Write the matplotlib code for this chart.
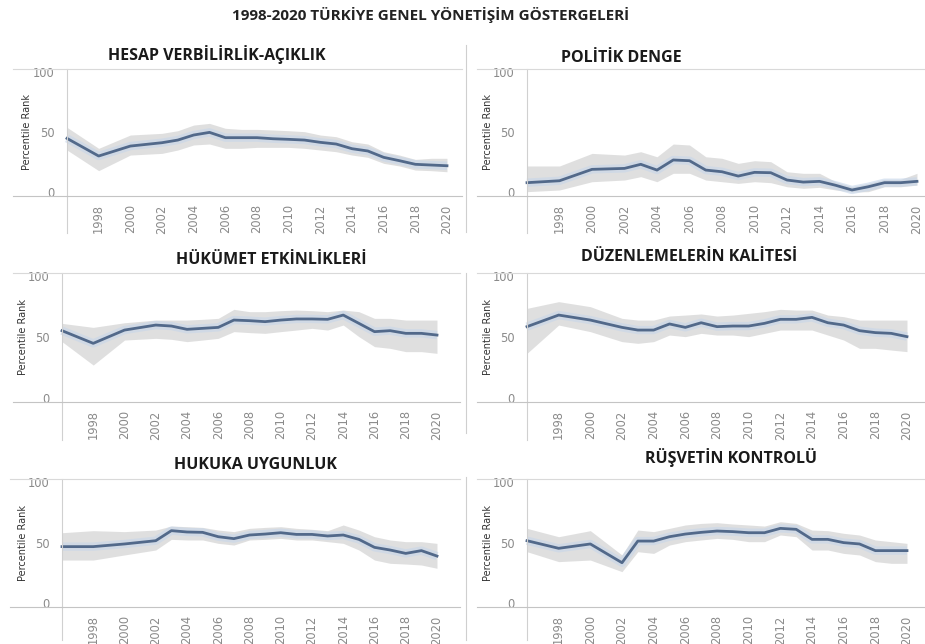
import matplotlib
matplotlib.use('Agg')
import matplotlib.pyplot as plt

years = [1996, 1998, 2000, 2002, 2003, 2004, 2005, 2006, 2007, 2008, 2009,
         2010, 2011, 2012, 2013, 2014, 2015, 2016, 2017, 2018, 2019, 2020]
tick_years = list(range(1998, 2021, 2))

# percentile rank + 90% band for each indicator
hesap_val = [44.7, 30.0, 38.3, 41.1, 43.3, 47.5, 49.7, 45.3, 45.3, 45.3, 44.4, 43.9, 43.3, 41.4, 40.0, 36.1, 34.2, 28.9, 26.1, 23.1, 22.5, 21.9]
hesap_up = [53.9, 36.4, 47.5, 48.9, 51.1, 55.8, 57.2, 53.1, 52.2, 52.2, 51.7, 51.1, 50.3, 47.5, 46.1, 41.9, 40.0, 33.6, 30.8, 27.2, 28.1, 28.1]
hesap_lo = [35.0, 17.8, 30.8, 32.2, 35.0, 39.2, 40.0, 36.4, 36.4, 37.2, 37.2, 37.2, 36.4, 35.0, 33.6, 30.8, 28.9, 23.9, 21.7, 18.3, 17.8, 16.9]

politik_val = [7.8, 9.4, 18.9, 19.7, 23.1, 18.3, 26.7, 26.1, 18.3, 16.9, 13.3, 16.4, 16.1, 10.0, 8.3, 8.9, 5.6, 1.7, 4.4, 7.8, 7.8, 8.9]
politik_up = [21.7, 21.7, 32.2, 30.8, 33.6, 29.4, 40.0, 39.2, 29.4, 28.1, 23.9, 26.1, 25.3, 16.9, 15.6, 15.6, 8.6, 4.4, 7.2, 10.6, 10.6, 15.6]
politik_lo = [0.3, 1.7, 8.6, 10.0, 12.8, 8.6, 15.6, 15.6, 10.0, 8.6, 7.2, 8.6, 7.8, 4.4, 3.1, 3.9, 1.7, 0.0, 0.3, 4.4, 4.4, 5.8]

hukumet_val = [55.2, 44.8, 55.7, 59.8, 59.0, 56.3, 57.1, 57.9, 63.9, 63.4, 62.6, 63.9, 64.8, 64.8, 64.5, 68.0, 61.2, 54.4, 55.2, 53.0, 53.0, 51.6]
hukumet_up = [61.2, 57.9, 61.7, 63.9, 63.9, 63.9, 64.5, 65.3, 72.7, 70.8, 70.8, 71.6, 72.1, 71.6, 70.8, 72.1, 70.8, 65.3, 65.3, 63.9, 63.9, 63.9]
hukumet_lo = [46.2, 27.0, 47.5, 48.9, 48.1, 46.2, 47.5, 48.9, 54.4, 53.6, 53.0, 54.4, 55.7, 57.1, 55.7, 59.8, 50.3, 42.1, 40.7, 38.0, 38.0, 36.6]

duzen_val = [58.5, 68.0, 63.9, 57.9, 55.7, 55.7, 60.7, 57.9, 61.7, 58.5, 59.0, 59.0, 61.2, 64.5, 64.5, 66.1, 61.7, 59.8, 55.2, 53.6, 53.0, 50.3]
duzen_up = [73.5, 79.0, 74.9, 65.3, 63.9, 63.9, 67.2, 68.0, 68.9, 67.2, 68.0, 69.4, 70.8, 72.7, 72.1, 72.1, 68.0, 66.7, 63.9, 63.9, 63.9, 63.9]
duzen_lo = [36.6, 59.8, 54.4, 46.2, 44.8, 46.2, 51.6, 50.3, 53.0, 51.6, 51.6, 50.3, 53.0, 55.7, 55.7, 55.7, 51.6, 47.5, 40.7, 40.7, 39.3, 38.0]

hukuk_val = [46.6, 46.6, 48.8, 51.5, 59.8, 58.7, 58.4, 54.8, 53.2, 56.2, 57.0, 58.1, 56.7, 56.7, 55.4, 56.2, 52.6, 46.0, 43.8, 41.0, 43.3, 38.8]
hukuk_up = [58.1, 59.8, 59.0, 60.3, 63.6, 63.1, 62.5, 60.3, 59.0, 61.7, 62.5, 63.1, 61.7, 60.9, 59.8, 64.5, 60.3, 54.8, 52.1, 50.7, 50.7, 49.3]
hukuk_lo = [35.5, 35.5, 39.7, 43.8, 52.6, 52.1, 52.1, 49.3, 47.9, 52.1, 52.6, 53.4, 52.1, 52.1, 50.7, 49.3, 43.8, 35.5, 32.8, 32.2, 31.4, 28.7]

rusvet_val = [51.5, 45.2, 48.8, 33.3, 51.2, 51.2, 54.8, 57.0, 58.4, 59.5, 59.0, 58.1, 58.1, 61.7, 60.9, 52.6, 52.6, 49.9, 48.8, 43.3, 43.3, 43.3]
rusvet_up = [61.7, 54.8, 59.8, 39.7, 60.3, 59.0, 61.7, 64.5, 65.8, 66.4, 65.3, 64.5, 63.6, 67.2, 65.8, 60.3, 59.8, 57.6, 56.2, 52.1, 50.7, 49.3]
rusvet_lo = [42.4, 34.2, 35.5, 25.9, 42.4, 41.0, 47.9, 50.7, 52.1, 53.4, 52.6, 50.7, 50.7, 56.2, 54.8, 43.8, 43.8, 41.0, 39.7, 34.2, 32.8, 32.8]

titles = ['HESAP VERBİLİRLİK-AÇIKLIK', 'POLİTİK DENGE', 'HÜKÜMET ETKİNLİKLERİ',
          'DÜZENLEMELERİN KALİTESİ', 'HUKUKA UYGUNLUK', 'RÜŞVETİN KONTROLÜ']
series = [(hesap_val, hesap_lo, hesap_up), (politik_val, politik_lo, politik_up),
          (hukumet_val, hukumet_lo, hukumet_up), (duzen_val, duzen_lo, duzen_up),
          (hukuk_val, hukuk_lo, hukuk_up), (rusvet_val, rusvet_lo, rusvet_up)]

W, H = 925, 644
# pixel layout: box left, box right, x of 1996, x of 2020, top, bottom, title x, title y, ylabel x, axis line end
layout = [
    (13, 462, 67, 447, 69, 196, 217, 55, 27, 233),
    (477, 925, 527, 917, 69, 196, 621, 58, 488, 233),
    (13, 460, 62, 437, 273, 402, 271, 260, 23, 440),
    (477, 925, 527, 907, 273, 402, 689, 257, 488, 440),
    (10, 460, 62, 437, 479, 607, 255, 465, 23, 640),
    (477, 925, 527, 907, 479, 607, 731, 458, 488, 640),
]
YMIN, YMAX = -3.3, 102.5

fig = plt.figure(figsize=(W / 100, H / 100), dpi=100)
fig.patch.set_facecolor('white')

fig.text(431 / W, 1 - 15 / H, '1998-2020 TÜRKİYE GENEL YÖNETİŞİM GÖSTERGELERİ',
         ha='center', va='center', fontsize=11, fontweight='bold',
         family='Open Sans', color='#222222')

for (val, lo, up), title, (L, R, x0, x1, top, bot, tx, ty, lx, vend) in zip(series, titles, layout):
    ax = fig.add_axes([L / W, 1 - bot / H, (R - L) / W, (bot - top) / H])
    k = (x1 - x0) / 24.0
    ax.set_xlim(1996 - (x0 - L) / k, 2020 + (R - x1) / k)
    ax.set_ylim(YMIN, YMAX)

    ax.fill_between(years, lo, up, color='#dadada', alpha=0.85, lw=0)
    ax.plot(years, val, color='#c6d6ea', lw=6, alpha=0.6,
            solid_joinstyle='round', solid_capstyle='butt')
    ax.plot(years, val, color='#52698a', lw=2, solid_joinstyle='round')

    ax.spines['right'].set_visible(False)
    ax.spines['top'].set_color('#d9d9d9')
    ax.spines['bottom'].set_color('#c4c4c4')
    ax.spines['left'].set_position(('data', 1996))
    ax.spines['left'].set_color('#d0d0d0')
    # y axis line runs down through the year labels
    ppu = (bot - top) / (YMAX - YMIN)
    ax.plot([1996, 1996], [YMIN, YMIN - (vend - bot) / ppu], color='#d0d0d0',
            lw=0.8, clip_on=False)

    ax.set_yticks([0, 50, 100])
    ax.set_yticklabels(['0', '50', '100'])
    ax.set_xticks(tick_years)
    ax.set_xticklabels([str(y) for y in tick_years], rotation=90)
    ax.tick_params(length=0, labelsize=8.3, labelcolor='#8a8a8a')
    ax.tick_params(axis='y', pad=9)
    ax.tick_params(axis='x', pad=6)

    fig.text(lx / W, 1 - (top + bot) / 2 / H, 'Percentile Rank', rotation=90,
             ha='center', va='center', fontsize=7, color='#333333')
    fig.text(tx / W, 1 - ty / H, title, ha='center', va='center', fontsize=11.5,
             fontweight='bold', family='Open Sans', color='#1a1a1a')

# thin borders between the left and right chart images
for y0, y1 in [(45, 232), (273, 433), (477, 640)]:
    fig.add_artist(plt.Line2D([466 / W, 466 / W], [1 - y0 / H, 1 - y1 / H],
                              color='#cfcfcf', lw=0.8))

fig.savefig('out.png', dpi=100)
